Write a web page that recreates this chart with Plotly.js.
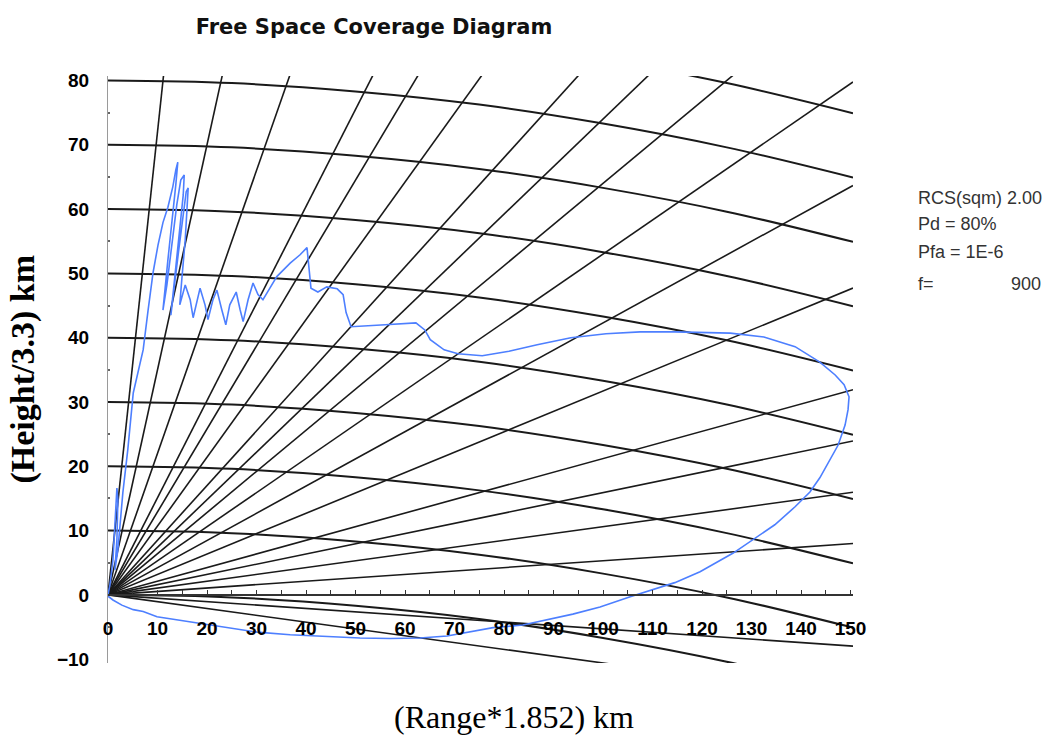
<!DOCTYPE html>
<html><head><meta charset="utf-8">
<script src="https://cdn.plot.ly/plotly-3.0.1.min.js"></script>
<style>html,body{margin:0;padding:0;background:#fff}#chart{width:1049px;height:738px}</style>
</head><body><div id="chart"></div>
<script>
// Constant-height curves (start height at range 0) and their drop with range
const heightLevels = [0, 10, 20, 30, 40, 50, 60, 70, 80, 90];
const dropRange  = [0, 25, 50, 75, 100, 125, 150.5];
const dropAmount = [0, 0.4, 1.7, 3.75, 6.7, 10.4, 15.1];

// Elevation rays from the origin, as slopes
const raySlopes = [7.2, 3.5, 2.2, 1.51, 1.29, 1.07, 0.85, 0.74, 0.64, 0.53, 0.423, 0.317, 0.212, 0.159, 0.106, 0.053, 0, -0.053, -0.106];
const rayEndRange = 150.5;

// Coverage (detection) contour
const coverageX = [0,0.4,1.0,1.6,1.8,2.0,1.8,1.4,2.0,3.0,4.0,5.1,6.5,7.1,8.1,9.1,10.1,11.1,12.1,13.1,13.7,14.1,
13.7,12.9,12.1,11.5,11.1,11.9,12.9,13.9,14.7,15.4,15.2,14.5,13.7,13.1,12.7,13.3,14.3,15.2,15.8,16.2,16.0,15.6,14.9,14.5,
15.6,16.6,17.2,18.0,18.6,19.6,20.2,21.2,22.0,23.0,23.8,24.6,25.9,26.7,27.3,28.3,29.3,30.3,31.3,32.7,34.1,36.8,38.8,40.2,
40.6,41.0,42.4,44.2,46.3,47.5,48.1,49.1,56.0,62.2,64.0,65.1,67.9,70.7,75.6,81.0,86.7,93.5,100.6,107.5,114.5,125.7,132.5,
138.8,143.8,146.9,148.7,149.7,149.5,148.9,147.5,145.9,143.8,141.8,138.8,134.7,130.3,126.3,119.6,114.5,105.5,99.4,93.9,
88.7,83.8,77.8,72.5,68.5,63.0,57.0,50.9,44.8,36.8,30.1,23.2,16.6,9.9,7.1,5.1,2.8,1.0,0];
const coverageY = [0,1.6,5.4,13.2,16.6,14.8,8.6,3.9,7.0,15.9,22.6,31.4,36.1,38.1,44.3,50.1,54.4,57.9,60.3,63.5,66.1,67.3,
63.8,58.3,52.1,47.4,44.3,48.2,54.4,60.7,64.5,65.3,62.2,56.8,50.5,45.9,43.5,47.4,53.7,59.1,62.7,63.3,60.7,55.2,49.0,45.1,
48.2,45.9,43.1,45.9,47.7,45.1,42.8,45.9,47.4,44.3,42.0,45.1,47.1,44.3,42.5,45.9,48.5,46.7,45.9,47.7,49.5,51.6,52.9,54.0,
50.5,47.7,47.1,47.9,47.6,46.7,43.9,41.7,42.0,42.3,41.2,39.7,38.1,37.5,37.2,37.9,38.9,40.0,40.6,40.9,40.9,40.7,40.1,
38.6,36.2,34.2,32.7,30.8,28.8,26.4,23.3,21.0,18.2,16.0,13.7,10.9,8.6,6.5,3.6,1.9,-0.3,-1.9,-3.0,
-3.9,-4.7,-5.1,-5.8,-6.4,-6.7,-6.8,-6.7,-6.5,-6.2,-5.8,-5.0,-4.2,-3.4,-2.6,-2.3,-1.6,-0.8,-0.2];

const infoLeft  = ["RCS(sqm) 2.00", "Pd = 80%", "Pfa = 1E-6", "f="];
const infoRight = ["", "", "", "900"];

const traces = [];
heightLevels.forEach(h => {
  traces.push({x: dropRange, y: dropAmount.map(d => h - d), type: 'scatter', mode: 'lines',
    line: {color: '#1a1a1a', width: 2, shape: 'spline'}, hoverinfo: 'skip', showlegend: false});
});
raySlopes.forEach(s => {
  traces.push({x: [0, rayEndRange], y: [0, s * rayEndRange], type: 'scatter', mode: 'lines',
    line: {color: '#1a1a1a', width: 1.6}, hoverinfo: 'skip', showlegend: false});
});
traces.push({x: coverageX, y: coverageY, type: 'scatter', mode: 'lines',
  line: {color: '#4d7fff', width: 1.6}, showlegend: false});

const yMin = -10.6, yMax = 80.7;
const annotations = [
  {text: '(Range*1.852) km', xref: 'paper', yref: 'paper', x: (514-108)/745, y: -(717-663)/587,
   xanchor: 'center', yanchor: 'middle', showarrow: false,
   font: {family: 'Liberation Serif, Times New Roman, serif', size: 32, color: '#000'}},
  {text: '(Height/3.3) km', xref: 'paper', yref: 'paper', x: -(108-22)/745, y: 0.5, textangle: -90,
   xanchor: 'center', yanchor: 'middle', showarrow: false,
   font: {family: 'Liberation Serif, Times New Roman, serif', size: 34, color: '#000', weight: 'bold'}}
];
const infoY = [198, 224, 252, 284];
infoLeft.forEach((t, i) => {
  annotations.push({text: t, xref: 'paper', yref: 'paper', x: (916-108)/745, y: (663-infoY[i])/587,
    xanchor: 'left', yanchor: 'middle', showarrow: false,
    font: {family: 'Liberation Sans, Arial, sans-serif', size: 18, color: '#333'}});
  if (infoRight[i]) annotations.push({text: infoRight[i], xref: 'paper', yref: 'paper', x: (1043-108)/745, y: (663-infoY[i])/587,
    xanchor: 'right', yanchor: 'middle', showarrow: false,
    font: {family: 'Liberation Sans, Arial, sans-serif', size: 18, color: '#333'}});
});

const layout = {
  width: 1049, height: 738,
  margin: {l: 108, r: 196, t: 76, b: 75},
  paper_bgcolor: '#fff', plot_bgcolor: '#fff',
  showlegend: false,
  title: {text: 'Free Space Coverage Diagram', x: 374/1049, xanchor: 'center', y: 1 - 27/738, yanchor: 'middle',
    font: {family: 'DejaVu Sans, sans-serif', size: 21, color: '#111', weight: 'bold'}},
  xaxis: {range: [0, 150.5], anchor: 'free', position: (0 - yMin) / (yMax - yMin),
    showgrid: false, zeroline: false, showline: true, linecolor: '#333', linewidth: 2,
    tick0: 0, dtick: 10, ticks: 'inside', ticklen: 4, tickcolor: '#333', tickwidth: 1,
    minor: {dtick: 5, ticks: 'inside', ticklen: 4, tickcolor: '#333', tickwidth: 1},
    ticklabelstandoff: 16,
    tickfont: {family: 'Liberation Sans, Arial, sans-serif', size: 19, color: '#000', weight: 'bold'}},
  yaxis: {range: [yMin, yMax], showgrid: false, zeroline: false, showline: true, linecolor: '#9a9a9a', linewidth: 1,
    tick0: 0, dtick: 10, ticks: '',
    minor: {tick0: 5, dtick: 10, ticks: 'inside', ticklen: 2, tickcolor: '#666', tickwidth: 2},
    ticklabelstandoff: 14,
    tickfont: {family: 'Liberation Sans, Arial, sans-serif', size: 19, color: '#000', weight: 'bold'}},
  annotations: annotations
};
Plotly.newPlot('chart', traces, layout, {displayModeBar: false, staticPlot: true});
</script></body></html>
